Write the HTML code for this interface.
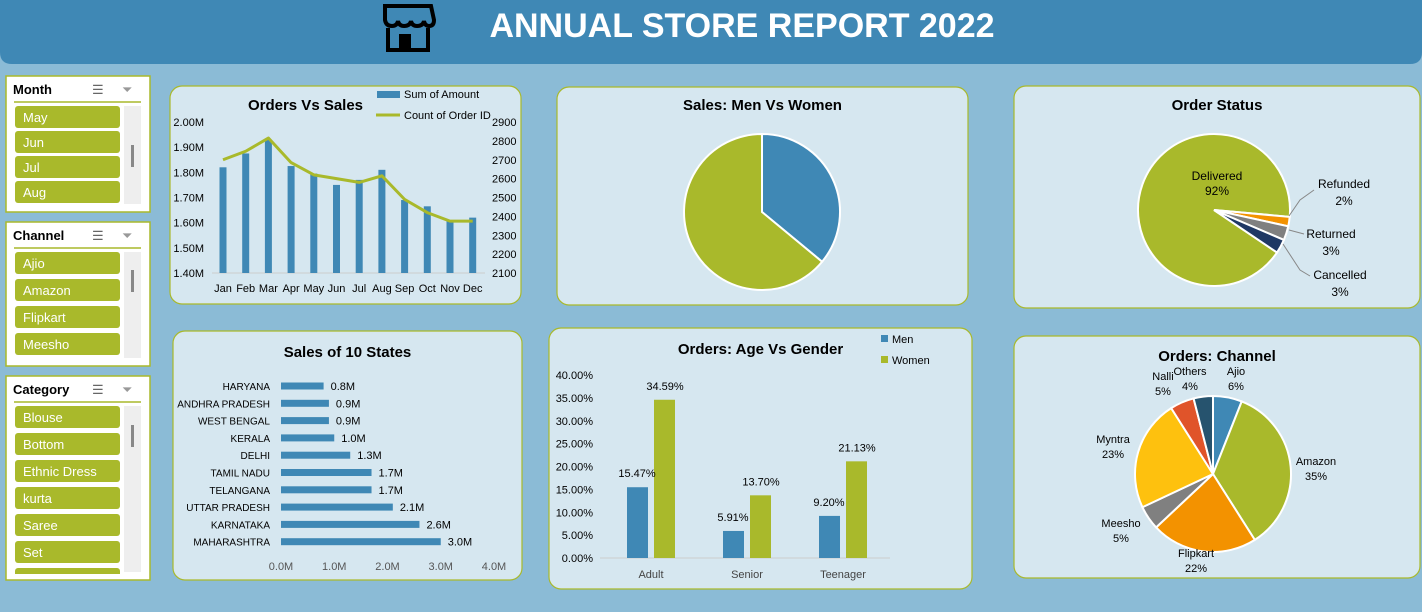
<!DOCTYPE html>
<html><head><meta charset="utf-8"><style>
html,body{margin:0;padding:0;background:#8bbbd6;}
svg{display:block;font-family:"Liberation Sans",sans-serif;}
</style></head><body>
<svg id="s" width="1422" height="612" viewBox="0 0 1422 612">
<rect x="0" y="0" width="1422" height="612" fill="#8bbbd6"/>
<path d="M0 0 H1422 V52 Q1422 64 1410 64 H12 Q0 64 0 52 Z" fill="#3f88b5"/>
<g fill="#000">
<path d="M385 6 H431 L434 20 Q434 26 429 26 Q425 26 424 21 Q423 26 417 26 Q412 26 411 21 Q410 26 404 26 Q399 26 398 21 Q397 26 392 26 Q386 26 385 20 Z" fill="none" stroke="#000" stroke-width="4"/>
<path d="M388 28 V50 H428 V28" fill="none" stroke="#000" stroke-width="4"/>
<rect x="399" y="34" width="12" height="16"/>
</g>
<text x="742" y="37" text-anchor="middle" font-size="34" font-weight="bold" fill="#fff">ANNUAL STORE REPORT 2022</text>
<g id="slicers"></g>
<g id="panels"></g>
<g id="charts"></g>
</svg>
<script>
const NS="http://www.w3.org/2000/svg";
function mk(tag,attrs,parent,txt){const e=document.createElementNS(NS,tag);for(const k in attrs)e.setAttribute(k,attrs[k]);if(txt!==undefined)e.textContent=txt;(parent||document.getElementById('charts')).appendChild(e);return e;}
const G=document.getElementById('charts');

// ---- slicers ----
const monthItems=["May","Jun","Jul","Aug"];
const channelItems=["Ajio","Amazon","Flipkart","Meesho"];
const categoryItems=["Blouse","Bottom","Ethnic Dress","kurta","Saree","Set",""];
function slicer(name,title,x,y,h,items,step,thumbY){
  const g=mk('g',{},document.getElementById('slicers'));
  
  
  mk('rect',{x:x,y:y,width:144,height:h,fill:'#fff',stroke:'#a9b92b','stroke-width':1.5},g);
  const t=mk('text',{x:x+7,y:y+18,'font-size':13,'font-weight':'bold',fill:'#000'},g,title);
  
  
  const ms=mk('text',{x:x+86,y:y+18,'font-size':13,fill:'#666'},g,'☰');
  
  
  const cf=mk('text',{x:x+116,y:y+18,'font-size':13,fill:'#999'},g,'⏷');
  
  
  mk('line',{x1:x+8,y1:y+26,x2:x+135,y2:y+26,stroke:'#a9b92b','stroke-width':1.5},g);
  const clipId='clip-'+name;
  const cp=mk('clipPath',{id:clipId},g);
  mk('rect',{x:x,y:y,width:144,height:h-6},cp);
  const ig=mk('g',{'clip-path':'url(#'+clipId+')'},g);
  items.forEach((it,i)=>{
    const by=y+30+i*step;
    const b=mk('rect',{x:x+9,y:by,width:105,height:22,rx:3,fill:'#a9b92b'},ig);
    
    
    mk('text',{x:x+17,y:by+16,'font-size':13,fill:'#fff'},ig,it);
  });
  mk('rect',{x:x+118,y:y+30,width:17,height:h-38,fill:'#eeeeee'},g);
  mk('rect',{x:x+125,y:thumbY,width:3,height:22,fill:'#888'},g);
}
slicer('month','Month',6,76,136,monthItems,25,145);
slicer('channel','Channel',6,222,144,channelItems,27,270);
slicer('category','Category',6,376,204,categoryItems,27,425);

// ---- panels ----
function panel(name,x,y,w,h,title,ty){
  const r=mk('rect',{x:x,y:y,width:w,height:h,rx:12,fill:'#d6e7f0',stroke:'#a9b92b','stroke-width':1.2},document.getElementById('panels'));
  
  
  const t=mk('text',{x:x+w/2+(name==='orders-vs-sales'?-40:0),y:ty,'text-anchor':'middle','font-size':15,'font-weight':'bold',fill:'#000'},document.getElementById('panels'),title);
  
  
}
panel('orders-vs-sales',170,86,351,218,'Orders Vs Sales',110);
panel('sales-gender',557,87,411,218,'Sales: Men Vs Women',110);
panel('order-status',1014,86,406,222,'Order Status',110);
panel('states',173,331,349,249,'Sales of 10 States',357);
panel('age-gender',549,328,423,261,'Orders: Age Vs Gender',354);
panel('channel',1014,336,406,242,'Orders: Channel',361);

// ---- Chart 1: Orders vs Sales ----
const months=["Jan","Feb","Mar","Apr","May","Jun","Jul","Aug","Sep","Oct","Nov","Dec"];
const salesM=[1.82,1.875,1.93,1.825,1.795,1.75,1.77,1.81,1.69,1.665,1.61,1.62];
const ordersCnt=[2700,2745,2815,2685,2620,2600,2580,2615,2490,2420,2375,2375];
const leftTicks=[1.4,1.5,1.6,1.7,1.8,1.9,2.0];
const rightTicks=[2100,2200,2300,2400,2500,2600,2700,2800,2900];
(function(){
  const yL=v=>273-(v-1.4)/0.6*151, yR=v=>273-(v-2100)/800*151, xM=i=>223+i*22.7;
  leftTicks.forEach(t=>mk('text',{x:204,y:yL(t)+4,'text-anchor':'end','font-size':11,fill:'#000'},G,t.toFixed(2)+'M'));
  rightTicks.forEach(t=>mk('text',{x:492,y:yR(t)+4,'font-size':11,fill:'#000'},G,t));
  mk('line',{x1:212,y1:273,x2:485,y2:273,stroke:'#ccc'});
  salesM.forEach((v,i)=>{
    const b=mk('rect',{x:xM(i)-3.5,y:yL(v),width:7,height:273-yL(v),fill:'#3f88b5'});
    
    
    mk('text',{x:xM(i),y:292,'text-anchor':'middle','font-size':11,fill:'#000'},G,months[i]);
  });
  const l=mk('polyline',{points:ordersCnt.map((v,i)=>xM(i)+','+yR(v)).join(' '),fill:'none',stroke:'#a9b92b','stroke-width':3,'stroke-linejoin':'round'});
  
  
  mk('rect',{x:377,y:91,width:23,height:7,fill:'#3f88b5'});
  mk('text',{x:404,y:98,'font-size':11,fill:'#000'},G,'Sum of Amount');
  mk('line',{x1:376,y1:115,x2:400,y2:115,stroke:'#a9b92b','stroke-width':3});
  mk('text',{x:404,y:119,'font-size':11,fill:'#000'},G,'Count of Order ID');
})();

// ---- pie helper ----
function pie(cx,cy,r,vals,cols,names,start,prefix){
  const tot=vals.reduce((a,b)=>a+b,0);let a=start;
  vals.forEach((v,i)=>{
    const a2=a+v/tot*360;
    const p=d=>[cx+r*Math.sin(d*Math.PI/180),cy-r*Math.cos(d*Math.PI/180)];
    const [x1,y1]=p(a),[x2,y2]=p(a2);
    const s=mk('path',{d:`M${cx} ${cy} L${x1} ${y1} A${r} ${r} 0 ${a2-a>180?1:0} 1 ${x2} ${y2} Z`,fill:cols[i],stroke:'#fff','stroke-width':2});
    
    
    a=a2;
  });
}
// ---- Chart 2: Men vs Women ----
const genderNames=["Men","Women"];
const genderSales=[36,64];
pie(762,212,78,genderSales,['#3f88b5','#a9b92b'],genderNames,0,'gender');

// ---- Chart 3: Order status ----
const statusNames=["Delivered","Refunded","Returned","Cancelled"];
const statusPct=[92,2,3,3];
pie(1214,210,76,statusPct,['#a9b92b','#f39200','#808080','#1f3864'],statusNames,124,'status');
mk('text',{x:1217,y:180,'text-anchor':'middle','font-size':12},G,'Delivered');
mk('text',{x:1217,y:195,'text-anchor':'middle','font-size':12},G,statusPct[0]+'%');
[[statusNames[1],statusPct[1],1344,188],[statusNames[2],statusPct[2],1331,238],[statusNames[3],statusPct[3],1340,279]].forEach(d=>{
  mk('text',{x:d[2],y:d[3],'text-anchor':'middle','font-size':12},G,d[0]);
  mk('text',{x:d[2],y:d[3]+17,'text-anchor':'middle','font-size':12},G,d[1]+'%');
});
mk('polyline',{points:'1289,216 1300,200 1314,190',fill:'none',stroke:'#888'});
mk('line',{x1:1289,y1:230,x2:1304,y2:234,stroke:'#888'});
mk('polyline',{points:'1283,244 1300,270 1310,276',fill:'none',stroke:'#888'});

// ---- Chart 4: States ----
const states=["HARYANA","ANDHRA PRADESH","WEST BENGAL","KERALA","DELHI","TAMIL NADU","TELANGANA","UTTAR PRADESH","KARNATAKA","MAHARASHTRA"];
const stateSales=[0.8,0.9,0.9,1.0,1.3,1.7,1.7,2.1,2.6,3.0];
const stateTicks=[0,1,2,3,4];
(function(){
  const x=v=>281+v*53.25, y=i=>386+i*17.3;
  states.forEach((s,i)=>{
    mk('text',{x:270,y:y(i)+4,'text-anchor':'end','font-size':10,fill:'#000'},G,s);
    const b=mk('rect',{x:281,y:y(i)-3.5,width:x(stateSales[i])-281,height:7,fill:'#3f88b5'});
    
    
    mk('text',{x:x(stateSales[i])+7,y:y(i)+4,'font-size':11,fill:'#000'},G,stateSales[i].toFixed(1)+'M');
  });
  stateTicks.forEach(t=>mk('text',{x:x(t),y:570,'text-anchor':'middle','font-size':11,fill:'#555'},G,t.toFixed(1)+'M'));
})();

// ---- Chart 5: Age vs Gender ----
const ageGroups=["Adult","Senior","Teenager"];
const menPct=[15.47,5.91,9.20];
const womenPct=[34.59,13.70,21.13];
const pctTicks=[0,5,10,15,20,25,30,35,40];
(function(){
  const y=v=>558-v/40*183, cx=i=>651+i*96;
  pctTicks.forEach(t=>mk('text',{x:593,y:y(t)+4,'text-anchor':'end','font-size':11,fill:'#000'},G,t.toFixed(2)+'%'));
  mk('line',{x1:600,y1:558,x2:890,y2:558,stroke:'#ccc'});
  ageGroups.forEach((g,i)=>{
    const m=mk('rect',{x:cx(i)-24,y:y(menPct[i]),width:21,height:558-y(menPct[i]),fill:'#3f88b5'});
    
    
    const w=mk('rect',{x:cx(i)+3,y:y(womenPct[i]),width:21,height:558-y(womenPct[i]),fill:'#a9b92b'});
    
    
    mk('text',{x:cx(i)-14,y:y(menPct[i])-10,'text-anchor':'middle','font-size':11},G,menPct[i].toFixed(2)+'%');
    mk('text',{x:cx(i)+14,y:y(womenPct[i])-10,'text-anchor':'middle','font-size':11},G,womenPct[i].toFixed(2)+'%');
    mk('text',{x:cx(i),y:578,'text-anchor':'middle','font-size':11,fill:'#444'},G,g);
  });
  mk('rect',{x:881,y:335,width:7,height:7,fill:'#3f88b5'});
  mk('text',{x:892,y:343,'font-size':11},G,'Men');
  mk('rect',{x:881,y:356,width:7,height:7,fill:'#a9b92b'});
  mk('text',{x:892,y:364,'font-size':11},G,'Women');
})();

// ---- Chart 6: Channel ----
const channels=["Ajio","Amazon","Flipkart","Meesho","Myntra","Nalli","Others"];
const channelPct=[6,35,22,5,23,5,4];
pie(1213,474,78,channelPct,['#3f88b5','#a9b92b','#f39200','#808080','#fec10e','#e0542a','#26536e'],channels,0,'channel');
const chLabelPos=[[1236,375],[1316,465],[1196,557],[1121,527],[1113,443],[1163,380],[1190,375]];
channels.forEach((c,i)=>{
  mk('text',{x:chLabelPos[i][0],y:chLabelPos[i][1],'text-anchor':'middle','font-size':11},G,c);
  mk('text',{x:chLabelPos[i][0],y:chLabelPos[i][1]+15,'text-anchor':'middle','font-size':11},G,channelPct[i]+'%');
});
</script>
</body></html>
